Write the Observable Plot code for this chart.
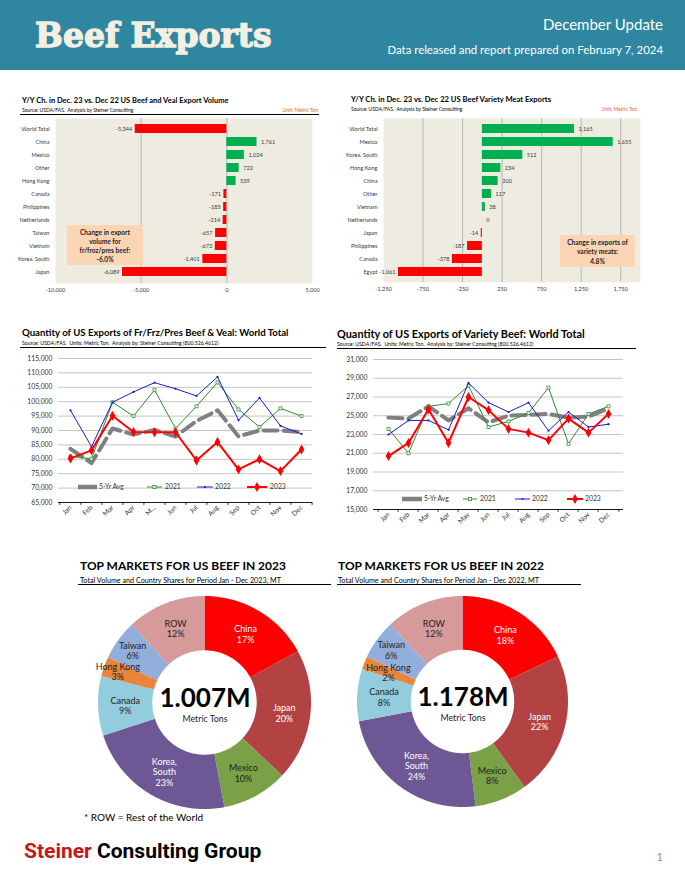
<!DOCTYPE html>
<html><head><meta charset="utf-8">
<script src="https://cdn.jsdelivr.net/npm/d3@7"></script>
<script src="https://cdn.jsdelivr.net/npm/@observablehq/plot@0.6"></script>
<style>
body{margin:0;background:#fff;}
#page{position:relative;width:685px;height:876px;overflow:hidden;background:#fff;font-family:Lato,"Open Sans",sans-serif;}
#page div.t{position:absolute;white-space:pre;}
#page svg{position:absolute;overflow:visible;}
</style></head>
<body><div id="page"></div>
<script>
// ---------- DATA ----------
const beefCats = ["World Total","China","Mexico","Other","Hong Kong","Canada","Philippines","Netherlands","Taiwan","Vietnam","Korea, South","Japan"];
const beefChg  = [-5344,1761,1024,722,539,-171,-185,-214,-657,-673,-1401,-6089];
const beefChgTicks = [-10000,-5000,0,5000];

const varCats = ["World Total","Mexico","Korea, South","Hong Kong","China","Other","Vietnam","Netherlands","Japan","Philippines","Canada","Egypt"];
const varChg  = [1165,1655,512,234,200,117,38,0,-14,-187,-378,-1061];
const varChgTicks = [-1250,-750,-250,250,750,1250,1750];

const months = ["Jan","Feb","Mar","Apr","May","Jun","Jul","Aug","Sep","Oct","Nov","Dec"];
const beefMonthLabels = ["Jan","Feb","Mar","Apr","M...","Jun","Jul","Aug","Sep","Oct","Nov","Dec"];
const beefAvg  = [83600,78700,90700,88600,90200,87900,93300,97000,88000,90000,90000,89500];
const beef2021 = [81000,80200,99800,95000,104100,90700,98400,106700,97300,91200,97700,95000];
const beef2022 = [97000,84400,99800,103400,106600,104500,102000,108600,93600,101300,91600,88800];
const beef2023 = [80300,83100,95100,89500,89400,89400,79600,86000,76500,80000,75900,83400];
const beefTicks = [65000,70000,75000,80000,85000,90000,95000,100000,105000,110000,115000];

const varAvg  = [24800,24700,26000,24500,25800,24300,25000,25100,25200,24800,24900,25800];
const var2021 = [23600,21000,26000,26300,28200,23800,24400,25300,28000,22000,25200,26000];
const var2022 = [23000,24500,24500,23500,28500,26400,25400,26400,23400,25400,23800,24100];
const var2023 = [20700,22100,25700,22100,27000,25600,23600,23200,22400,24700,23200,25200];
const varTicks = [15000,17000,19000,21000,23000,25000,27000,29000,31000];

const pieNames = ["China","Japan","Mexico","Korea,\nSouth","Canada","Hong Kong","Taiwan","ROW"];
const share2023 = [17,20,10,23,9,3,6,12];
const share2022 = [18,22,8,24,8,2,6,12];
const totals = ["1.007M","1.178M"];
const pieColors = ["#ff0000","#b34343","#7aa146","#6d5795","#93cddd","#e6853b","#92aedb","#d69a9a"];
const pieText   = ["#ffffff","#ffffff","#1e1e1e","#ffffff","#1e1e1e","#1e1e1e","#1e1e1e","#1e1e1e"];

const RED = "#ff0000", GREEN = "#00b050", LGREEN = "#2f8f2f", BLUE = "#1a1ad6", GRAY = "#808080";

// ---------- HELPERS ----------
const page = document.getElementById("page");
const fmt = d => d.toLocaleString("en-US");
function txt(s, x, y, fs, o = {}) {
  const d = document.createElement("div");
  d.className = "t";
  d.textContent = s;
  d.style.fontSize = fs + "px";
  d.style.lineHeight = fs + "px";
  d.style.top = (y - fs * 0.53) + "px";
  d.style.fontFamily = o.font || "Lato, 'Open Sans', sans-serif";
  d.style.fontWeight = o.bold ? 700 : 400;
  d.style.color = o.color || "#000";
  if (o.ls) d.style.letterSpacing = o.ls;
  if (o.right) d.style.right = (685 - x) + "px"; else d.style.left = x + "px";
  page.appendChild(d);
  return d;
}
function rect(x, y, w, h, c) {
  const d = document.createElement("div");
  d.style.cssText = `position:absolute;left:${x}px;top:${y}px;width:${w}px;height:${h}px;background:${c};`;
  page.appendChild(d);
  return d;
}
function put(svg, left, top) {
  svg.style.left = left + "px"; svg.style.top = top + "px";
  page.appendChild(svg);
}
function box(x, y, w, h, lines, lh, pad) {
  const d = rect(x, y, w, h, "#fcd5b5");
  d.style.boxSizing = "border-box";
  d.style.paddingTop = pad + "px";
  d.style.textAlign = "center";
  d.style.fontFamily = "Lato, sans-serif";
  d.style.fontWeight = 700;
  d.style.fontSize = "6.6px";
  d.style.lineHeight = lh + "px";
  d.style.color = "#1e1e1e";
  d.innerHTML = lines.join("<br>");
}

// ---------- HEADER ----------
rect(0, 0, 685, 70, "#2f86a0");
const hd = txt("Beef Exports", 35, 34, 33, {font: "'DejaVu Serif', serif", bold: true, color: "#f3efe2"});
hd.style.top = "19px";
hd.style.webkitTextStroke = "1.3px #f3efe2";
txt("December Update", 663, 25, 15, {right: true, color: "#ffffff"});
txt("Data released and report prepared on February 7, 2024", 663, 50, 11.4, {right: true, color: "#ffffff"});

// ---------- BAR CHARTS ----------
function barChart(cats, vals, ticks, domain, W, H, ml, mr, mt, mb) {
  const data = cats.map((c, i) => ({cat: c, v: vals[i]}));
  const grid = ticks.filter(t => t > domain[0] && t < domain[1]);
  return Plot.plot({
    width: W, height: H, marginLeft: ml, marginRight: mr, marginTop: mt, marginBottom: mb,
    style: {fontFamily: "Lato, sans-serif", fontSize: "5.6px", color: "#3a3a3a", background: "transparent", overflow: "visible"},
    x: {domain, label: null},
    y: {domain: cats, padding: 0.27, label: null},
    color: {type: "identity"},
    marks: [
      Plot.frame({fill: "#eeece1", stroke: null}),
      Plot.ruleX(grid, {stroke: "#a9a9a9", strokeWidth: 0.8}),
      Plot.barX(data, {x: "v", y: "cat", fill: d => d.v >= 0 ? GREEN : RED}),
      Plot.text(data.filter(d => d.v >= 0), {x: "v", y: "cat", text: d => fmt(d.v), textAnchor: "start", dx: 4, fill: "#3a3a3a"}),
      Plot.text(data.filter(d => d.v < 0), {x: "v", y: "cat", text: d => fmt(d.v), textAnchor: "end", dx: -3, fill: "#3a3a3a"}),
      Plot.axisX({ticks, tickSize: 0, tickPadding: 5, tickFormat: fmt, label: null}),
      Plot.axisY({tickSize: 0, tickPadding: 6, label: null})
    ]
  });
}
txt("Y/Y Ch. in Dec. 23 vs. Dec 22 US Beef and Veal Export Volume", 22, 101, 7.5, {bold: true});
txt("Source: USDA/FAS.  Analysis by Steiner Consulting", 22, 111, 5);
txt("Unit: Metric Ton", 318, 111, 5, {right: true, color: "#e2622a"});
rect(20, 114, 299, 1, "#000");
put(barChart(beefCats, beefChg, beefChgTicks, [-10000, 5000], 330, 185, 55, 18, 3, 17), 0, 115);
box(67, 225, 76, 40, ["Change in export", "volume for", "fr/froz/pres beef:", "-6.0%"], 9, 2.5);

txt("Y/Y Ch. in Dec. 23 vs. Dec 22 US Beef Variety Meat Exports", 351, 100, 7.6, {bold: true});
txt("Source: USDA/FAS.  Analysis by Steiner Consulting", 351, 110, 5);
txt("Unit: Metric Ton", 637, 110, 5, {right: true, color: "#e2622a"});
put(barChart(varCats, varChg, varChgTicks, [-1250, 2000], 345, 184, 43, 45, 3, 17), 340, 115);
box(560, 235, 75, 32, ["Change in exports of", "variety meats:", "4.8%"], 9.6, 2.5);

// ---------- LINE CHARTS ----------
function lineChart(avg, s21, s22, s23, yTicks, labels, W, H, ml, mr, mt, mb, tickLen) {
  const mk = arr => months.map((m, i) => ({m, v: arr[i]}));
  const dA = mk(avg), d1 = mk(s21), d2 = mk(s22), d3_ = mk(s23);
  const y0 = yTicks[0];
  const step = (W - ml - mr) / months.length;
  const lab = new Map(months.map((m, i) => [m, labels[i]]));
  return Plot.plot({
    width: W, height: H, marginLeft: ml, marginRight: mr, marginTop: mt, marginBottom: mb,
    style: {fontFamily: "Lato, sans-serif", fontSize: "6.8px", color: "#333", background: "transparent", overflow: "visible"},
    x: {type: "point", domain: months, padding: 0.5, label: null},
    y: {domain: [yTicks[0], yTicks[yTicks.length - 1]], label: null},
    marks: [
      Plot.ruleY(yTicks.slice(1), {stroke: "#bdbdbd", strokeWidth: 0.9}),
      Plot.ruleY([y0], {stroke: "#000", strokeWidth: 0.9}),
      Plot.ruleX(months, {x: d => d, y1: y0, y2: y0 - tickLen, dx: -step / 2, stroke: "#000", strokeWidth: 0.8}),
      Plot.ruleX([months[months.length - 1]], {x: d => d, y1: y0, y2: y0 - tickLen, dx: step / 2, stroke: "#000", strokeWidth: 0.8}),
      Plot.line(dA, {x: "m", y: "v", stroke: GRAY, strokeWidth: 4, strokeDasharray: "14,6"}),
      Plot.line(d1, {x: "m", y: "v", stroke: LGREEN, strokeWidth: 1}),
      Plot.dot(d1, {x: "m", y: "v", symbol: "square", r: 1.7, fill: "#fff", stroke: LGREEN, strokeWidth: 0.8}),
      Plot.line(d2, {x: "m", y: "v", stroke: BLUE, strokeWidth: 1}),
      Plot.dot(d2, {x: "m", y: "v", r: 1.1, fill: BLUE}),
      Plot.line(d3_, {x: "m", y: "v", stroke: RED, strokeWidth: 2}),
      Plot.dot(d3_, {x: "m", y: "v", symbol: "diamond", r: 3, fill: RED}),
      Plot.axisY({ticks: yTicks, tickSize: 0, tickPadding: 6, tickFormat: fmt, label: null}),
      Plot.axisX({tickSize: 0, tickPadding: 4, tickRotate: -45, tickFormat: d => lab.get(d), label: null})
    ]
  });
}
function legend(items, y) {
  items.forEach(([kind, x1, x2, label, tx]) => {
    const svg = d3.create("svg").attr("width", x2 - x1).attr("height", 10);
    const w = x2 - x1, my = 5;
    const g = svg.append("g");
    if (kind === "avg") g.append("line").attr("x1", 0).attr("x2", w).attr("y1", my).attr("y2", my).attr("stroke", GRAY).attr("stroke-width", 4.5);
    if (kind === "y21") { g.append("line").attr("x1", 0).attr("x2", w).attr("y1", my).attr("y2", my).attr("stroke", LGREEN); g.append("rect").attr("x", w/2 - 1.6).attr("y", my - 1.6).attr("width", 3.2).attr("height", 3.2).attr("fill", "#fff").attr("stroke", LGREEN).attr("stroke-width", 0.8); }
    if (kind === "y22") { g.append("line").attr("x1", 0).attr("x2", w).attr("y1", my).attr("y2", my).attr("stroke", BLUE); g.append("circle").attr("cx", w/2).attr("cy", my).attr("r", 1.1).attr("fill", BLUE); }
    if (kind === "y23") { g.append("line").attr("x1", 0).attr("x2", w).attr("y1", my).attr("y2", my).attr("stroke", RED).attr("stroke-width", 2); g.append("path").attr("d", d3.symbol(d3.symbolDiamond, 28)()).attr("transform", `translate(${w/2},${my})`).attr("fill", RED); }
    put(svg.node(), x1, y - 5);
    txt(label, tx, y, 6.8, {color: "#333"});
  });
}

txt("Quantity of US Exports of Fr/Frz/Pres Beef & Veal: World Total", 22, 333, 9.6, {bold: true});
txt("Source: USDA/FAS.  Units: Metric Ton.  Analysis by: Steiner Consulting (800.526.4612)", 22, 344, 5.2);
rect(20, 347, 306, 1, "#000");
put(lineChart(beefAvg, beef2021, beef2022, beef2023, beefTicks, beefMonthLabels, 320, 182, 48, 18, 8, 30, 1000), 10, 350);
legend([["avg", 78, 97, "5-Yr Avg", 99], ["y21", 147, 162, "2021", 165], ["y22", 197, 213, "2022", 215], ["y23", 247, 267, "2023", 270]], 487);

txt("Quantity of US Exports of Variety Beef: World Total", 337, 335, 10.9, {bold: true});
txt("Source: USDA/FAS.  Units: Metric Ton.  Analysis by: Steiner Consulting (800.526.4612)", 337, 345, 5.2);
rect(337, 348, 299, 1, "#000");
put(lineChart(varAvg, var2021, var2022, var2023, varTicks, months, 330, 189, 43, 37, 9, 30, 300), 330, 350);
legend([["avg", 402, 422, "5-Yr Avg", 424], ["y21", 463, 477, "2021", 480], ["y22", 515, 530, "2022", 532], ["y23", 567, 583, "2023", 585]], 499);

// ---------- DONUTS ----------
function donut(shares, total, size, hkR) {
  const arcs = d3.pie().sort(null).value(d => d)(shares);
  const ri = 0.49;
  const pts = [];
  arcs.forEach((a, i) => {
    const n = Math.ceil((a.endAngle - a.startAngle) / 0.015) + 1;
    for (let k = 0; k <= n; k++) {
      const t = a.startAngle + (a.endAngle - a.startAngle) * k / n;
      pts.push({i, c: pieColors[i], xo: Math.sin(t), yo: Math.cos(t), xi: ri * Math.sin(t), yi: ri * Math.cos(t)});
    }
  });
  const labels = arcs.map((a, i) => {
    const m = (a.startAngle + a.endAngle) / 2;
    const r = pieNames[i] === "Hong Kong" ? hkR : pieNames[i] === "Taiwan" ? 0.84 : 0.75;
    return {x: r * Math.sin(m), y: r * Math.cos(m), t: pieNames[i] + "\n" + shares[i] + "%", c: pieText[i]};
  });
  return Plot.plot({
    width: size, height: size, margin: 0,
    style: {fontFamily: "Lato, sans-serif", background: "transparent", overflow: "visible"},
    x: {domain: [-1, 1], axis: null}, y: {domain: [-1, 1], axis: null},
    color: {type: "identity"},
    marks: [
      Plot.area(pts, {x1: "xi", y1: "yi", x2: "xo", y2: "yo", z: "i", fill: "c"}),
      Plot.text(labels, {x: "x", y: "y", text: "t", fill: "c", fontSize: 9, lineHeight: 1.18}),
      Plot.text([total], {frameAnchor: "middle", dy: -4, fontSize: 26, fontWeight: 700, fill: "#000"}),
      Plot.text(["Metric Tons"], {frameAnchor: "middle", dy: 16, fontSize: 8.8, fill: "#222"})
    ]
  });
}
txt("TOP MARKETS FOR US BEEF IN 2023", 80, 566, 12, {bold: true});
txt("Total Volume and Country Shares for Period Jan - Dec 2023, MT", 80, 581, 7.2);
rect(78, 584, 253, 1, "#000");
put(donut(share2023, totals[0], 213, 0.87), 98, 596);

txt("TOP MARKETS FOR US BEEF IN 2022", 338, 566, 12, {bold: true});
txt("Total Volume and Country Shares for Period Jan - Dec 2022, MT", 338, 581, 7.2);
rect(337, 584, 244, 1, "#000");
put(donut(share2022, totals[1], 211, 0.76), 357, 595.5);

txt("* ROW = Rest of the World", 84, 817, 10);

// ---------- FOOTER ----------
const f = txt("", 24, 852, 21, {bold: true, font: "Roboto, 'Open Sans', sans-serif"});
f.innerHTML = '<span style="color:#c8161d">Steiner</span> <span style="color:#000">Consulting Group</span>';
txt("1", 663, 857, 11, {right: true, color: "#8c8c8c"});
</script>
</body></html>
